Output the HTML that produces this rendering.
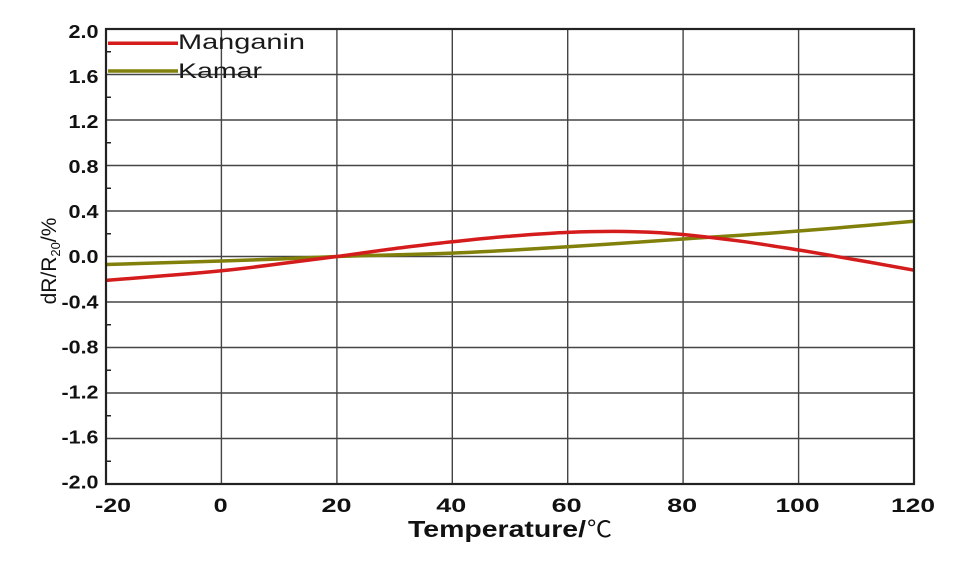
<!DOCTYPE html>
<html>
<head>
<meta charset="utf-8">
<style>
  html, body { margin: 0; padding: 0; background: #ffffff; }
  svg { display: block; }
  text { font-family: "Liberation Sans", "Noto Sans CJK SC", sans-serif; }
</style>
</head>
<body>
<svg width="980" height="568" viewBox="0 0 980 568" xmlns="http://www.w3.org/2000/svg">
  <rect x="0" y="0" width="980" height="568" fill="#ffffff"/>

  <!-- gridlines -->
  <g stroke="#454545" stroke-width="1.4" fill="none">
    <line x1="221.4" y1="29" x2="221.4" y2="484"/>
    <line x1="336.9" y1="29" x2="336.9" y2="484"/>
    <line x1="452.3" y1="29" x2="452.3" y2="484"/>
    <line x1="567.7" y1="29" x2="567.7" y2="484"/>
    <line x1="683.1" y1="29" x2="683.1" y2="484"/>
    <line x1="798.6" y1="29" x2="798.6" y2="484"/>

    <line x1="106" y1="74.5" x2="914" y2="74.5"/>
    <line x1="106" y1="120" x2="914" y2="120"/>
    <line x1="106" y1="165.5" x2="914" y2="165.5"/>
    <line x1="106" y1="211" x2="914" y2="211"/>
    <line x1="106" y1="256.5" x2="914" y2="256.5"/>
    <line x1="106" y1="302" x2="914" y2="302"/>
    <line x1="106" y1="347.5" x2="914" y2="347.5"/>
    <line x1="106" y1="393" x2="914" y2="393"/>
    <line x1="106" y1="438.5" x2="914" y2="438.5"/>
  </g>

  <!-- minor ticks on left axis -->
  <g stroke="#222" stroke-width="1.5">
    <line x1="106" y1="51.75" x2="111" y2="51.75"/>
    <line x1="106" y1="97.25" x2="111" y2="97.25"/>
    <line x1="106" y1="142.75" x2="111" y2="142.75"/>
    <line x1="106" y1="188.25" x2="111" y2="188.25"/>
    <line x1="106" y1="233.75" x2="111" y2="233.75"/>
    <line x1="106" y1="279.25" x2="111" y2="279.25"/>
    <line x1="106" y1="324.75" x2="111" y2="324.75"/>
    <line x1="106" y1="370.25" x2="111" y2="370.25"/>
    <line x1="106" y1="415.75" x2="111" y2="415.75"/>
    <line x1="106" y1="461.25" x2="111" y2="461.25"/>
  </g>

  <!-- Kamar curve -->
  <path fill="none" stroke="#80800a" stroke-width="3.5" stroke-linejoin="round"
    d="M106,264.5 C125,264 144,263.4 163.7,262.8 S202,261.6 221.4,261.0 S260,259.7 279.1,259.0 S317,257.2 336.9,256.5 S375,255.4 394.6,254.9 S433,253.8 452.3,253.1 S491,251.3 510,250.2 S548,247.9 567.7,246.7 S606,244.3 625.4,243.0 S664,240.3 683.1,239.0 S721,236.6 740.9,235.2 S779,232.5 798.6,231.0 S837,228 856.3,226.3 S895,223 914,221.2"/>

  <!-- Manganin curve -->
  <path fill="none" stroke="#d41c1c" stroke-width="3.5" stroke-linejoin="round"
    d="M106,280.4 C125,279 144,277.4 163.7,275.8 S202,272.6 221.4,270.7 S260,266.4 279.1,263.9 S317,259.1 336.9,256.5 S375,251 394.6,248.6 S433,243.6 452.3,241.7 S491,237.6 510,236.2 S548,233.2 567.7,232.4 S606,231.2 625.4,231.5 S664,232.6 683.1,234.5 S721,238.6 740.9,241.2 S779,246.9 798.6,250.0 S837,256.6 856.3,259.9 S895,266.8 914,270.2"/>

  <!-- frame -->
  <rect x="106" y="29" width="808" height="455" fill="none" stroke="#222" stroke-width="2.2"/>

  <!-- legend -->
  <line x1="108" y1="43.3" x2="178" y2="43.3" stroke="#d41c1c" stroke-width="3.5"/>
  <line x1="108" y1="71" x2="178" y2="71" stroke="#80800a" stroke-width="3.5"/>
  <text x="178" y="49" font-size="21" fill="#1a1a1a" textLength="127" lengthAdjust="spacingAndGlyphs">Manganin</text>
  <text x="178" y="78" font-size="21" fill="#1a1a1a" textLength="84" lengthAdjust="spacingAndGlyphs">Kamar</text>

  <!-- y tick labels -->
  <g font-size="18" font-weight="bold" fill="#111" text-anchor="end">
    <text x="98.5" y="38" textLength="30" lengthAdjust="spacingAndGlyphs">2.0</text>
    <text x="98.5" y="83" textLength="30" lengthAdjust="spacingAndGlyphs">1.6</text>
    <text x="98.5" y="128" textLength="30" lengthAdjust="spacingAndGlyphs">1.2</text>
    <text x="98.5" y="173.1" textLength="30" lengthAdjust="spacingAndGlyphs">0.8</text>
    <text x="98.5" y="218.1" textLength="30" lengthAdjust="spacingAndGlyphs">0.4</text>
    <text x="98.5" y="263.2" textLength="30" lengthAdjust="spacingAndGlyphs">0.0</text>
    <text x="98.5" y="308.3" textLength="37" lengthAdjust="spacingAndGlyphs">-0.4</text>
    <text x="98.5" y="353.3" textLength="37" lengthAdjust="spacingAndGlyphs">-0.8</text>
    <text x="98.5" y="398.4" textLength="37" lengthAdjust="spacingAndGlyphs">-1.2</text>
    <text x="98.5" y="443.4" textLength="37" lengthAdjust="spacingAndGlyphs">-1.6</text>
    <text x="98.5" y="488.5" textLength="37" lengthAdjust="spacingAndGlyphs">-2.0</text>
  </g>

  <!-- x tick labels -->
  <g font-size="19" font-weight="bold" fill="#111" text-anchor="middle">
    <text x="113" y="512" textLength="36" lengthAdjust="spacingAndGlyphs">-20</text>
    <text x="220.7" y="512" textLength="14" lengthAdjust="spacingAndGlyphs">0</text>
    <text x="336.5" y="512" textLength="30" lengthAdjust="spacingAndGlyphs">20</text>
    <text x="451.3" y="512" textLength="30" lengthAdjust="spacingAndGlyphs">40</text>
    <text x="566.7" y="512" textLength="30" lengthAdjust="spacingAndGlyphs">60</text>
    <text x="682.1" y="512" textLength="30" lengthAdjust="spacingAndGlyphs">80</text>
    <text x="797.5" y="512" textLength="44" lengthAdjust="spacingAndGlyphs">100</text>
    <text x="913" y="512" textLength="44" lengthAdjust="spacingAndGlyphs">120</text>
  </g>

  <!-- x axis title -->
  <text x="408" y="537" font-size="23" font-weight="bold" fill="#111" textLength="178" lengthAdjust="spacingAndGlyphs">Temperature/</text>
  <text x="587" y="537" font-size="23" fill="#111" textLength="25" lengthAdjust="spacingAndGlyphs" font-family="'Noto Sans CJK SC', 'DejaVu Sans', sans-serif">℃</text>

  <!-- y axis title -->
  <text transform="translate(56,261) rotate(-90)" text-anchor="middle" font-size="21" fill="#111">dR/R<tspan font-size="13" dy="4">20</tspan><tspan dy="-4">/%</tspan></text>
</svg>
</body>
</html>
